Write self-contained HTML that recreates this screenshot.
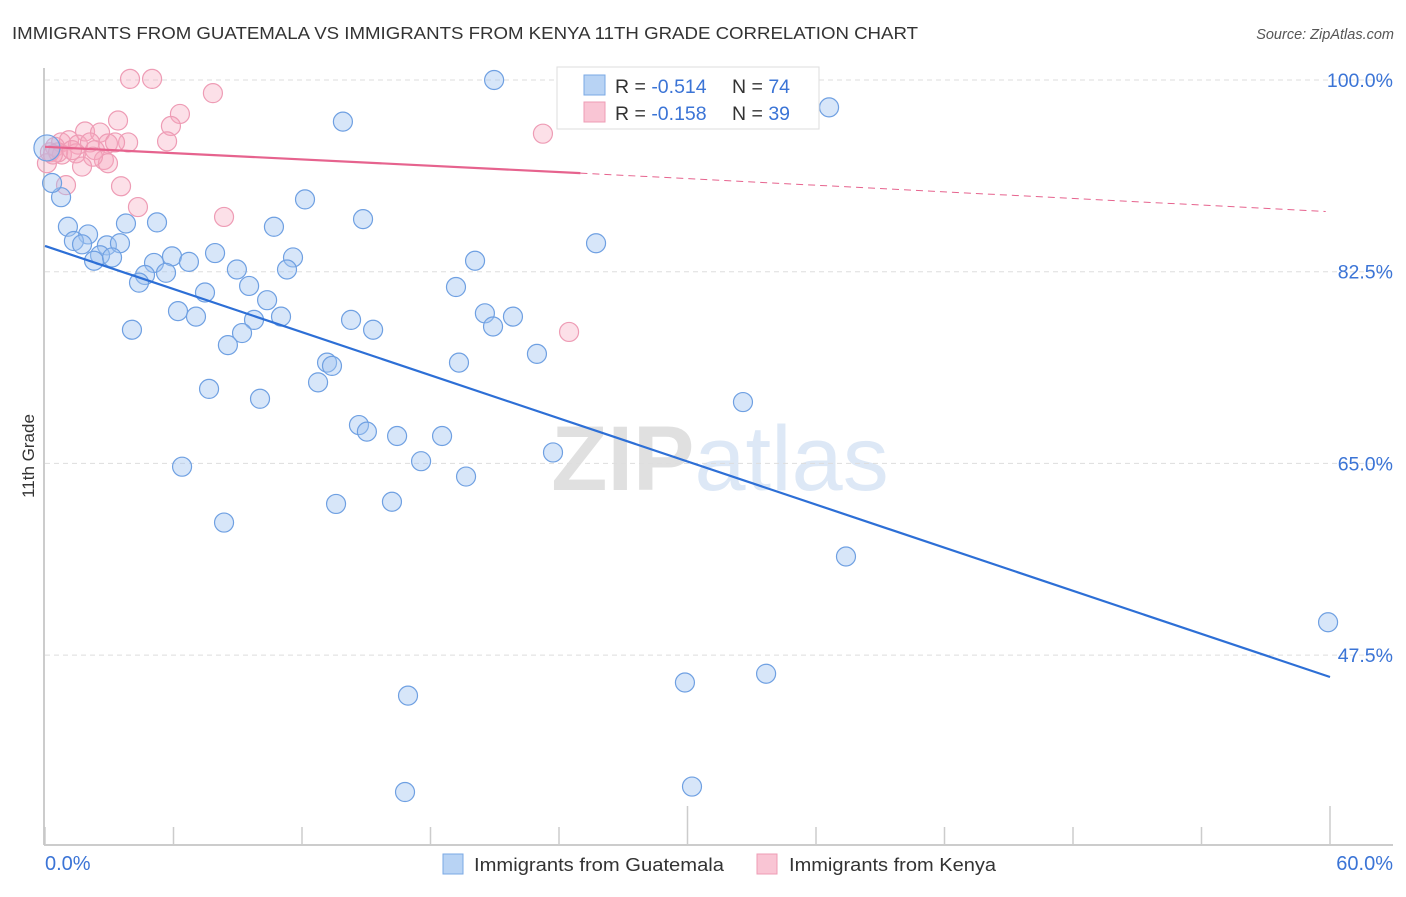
<!DOCTYPE html>
<html><head><meta charset="utf-8"><style>
body{margin:0;background:#fff;width:1406px;height:892px;overflow:hidden;font-family:"Liberation Sans",sans-serif}
svg text{font-family:"Liberation Sans",sans-serif}
</style></head><body>
<svg id="chart" width="1406" height="892" viewBox="0 0 1406 892" xmlns="http://www.w3.org/2000/svg">
<text x="12" y="39" font-size="17.5" fill="#333" textLength="906" lengthAdjust="spacingAndGlyphs">IMMIGRANTS FROM GUATEMALA VS IMMIGRANTS FROM KENYA 11TH GRADE CORRELATION CHART</text>
<text x="1394" y="39" font-size="14.5" fill="#555" text-anchor="end" font-style="italic">Source: ZipAtlas.com</text>
<text x="720" y="490" font-size="92" text-anchor="middle" fill="#e4e4e4" font-family="Liberation Serif,serif"><tspan fill="#e0e0e0" font-weight="bold">ZIP</tspan><tspan fill="#dde8f6" font-family="Liberation Sans,sans-serif">atlas</tspan></text>
<g id="grid"></g>
<g id="axes"></g>
<g id="marks"></g>
<text transform="translate(34,456) rotate(-90)" font-size="17" fill="#333" text-anchor="middle">11th Grade</text>
<g>
<rect x="557" y="67" width="262" height="62" fill="#fff" stroke="#ddd"/>
<rect x="584" y="75" width="21" height="20" fill="#b8d3f4" stroke="#7aa8e4"/>
<rect x="584" y="102" width="21" height="20" fill="#f9c5d4" stroke="#ee9cb5"/>
<text x="615" y="93" font-size="19.5" fill="#333">R = <tspan fill="#3b74d6">-0.514</tspan><tspan x="732">N = </tspan><tspan fill="#3b74d6">74</tspan></text>
<text x="615" y="120" font-size="19.5" fill="#333">R = <tspan fill="#3b74d6">-0.158</tspan><tspan x="732">N = </tspan><tspan fill="#3b74d6">39</tspan></text>
</g>
<g>
<rect x="443" y="854" width="20" height="20" fill="#b8d3f4" stroke="#7aa8e4"/>
<text x="474" y="871" font-size="18" fill="#333" textLength="250" lengthAdjust="spacingAndGlyphs">Immigrants from Guatemala</text>
<rect x="757" y="854" width="20" height="20" fill="#f9c5d4" stroke="#ee9cb5"/>
<text x="789" y="871" font-size="18" fill="#333" textLength="207" lengthAdjust="spacingAndGlyphs">Immigrants from Kenya</text>
</g>
</svg>
<script>
const xTickVals=[0,6,12,18,24,30,36,42,48,54,60];
const yTickVals=[100,82.5,65,47.5];
const yTickLabels=["100.0%","82.5%","65.0%","47.5%"];
const xEndLabels=["0.0%","60.0%"];
const guatX=[0.09,20.97,36.61,13.91,12.14,0.75,0.33,1.07,3.78,5.23,14.85,10.69,2.01,1.35,1.73,2.89,3.50,25.73,7.94,5.93,2.57,2.29,3.13,5.09,6.72,11.58,20.08,8.96,11.30,4.67,5.65,4.39,9.53,7.47,19.19,10.37,6.21,7.05,9.76,11.02,14.29,20.54,21.85,20.92,4.06,9.20,15.32,8.54,22.97,13.17,13.40,19.33,12.75,7.66,10.04,32.59,14.66,15.03,16.44,18.54,23.72,17.56,6.40,19.66,16.20,13.59,8.36,37.40,59.91,33.67,29.88,16.95,16.81,30.21];
const guatY=[93.8,100.0,97.5,96.2,89.1,89.3,90.6,86.6,86.9,87.0,87.3,86.6,85.9,85.3,85.0,84.9,85.1,85.1,84.2,83.9,84.0,83.5,83.8,83.3,83.4,83.8,83.5,82.7,82.7,82.2,82.4,81.5,81.2,80.6,81.1,79.9,78.9,78.4,78.1,78.4,78.1,78.7,78.4,77.5,77.2,76.9,77.2,75.8,75.0,74.2,73.9,74.2,72.4,71.8,70.9,70.6,68.5,67.9,67.5,67.5,66.0,65.2,64.7,63.8,61.5,61.3,59.6,56.5,50.5,45.8,45.0,43.8,35.0,35.5];
const kenyaX=[3.97,5.00,24.79,7.84,6.30,3.41,5.88,1.87,2.57,5.70,23.25,3.88,0.75,1.12,1.54,2.10,2.94,0.47,0.23,0.79,2.33,1.45,2.75,2.94,2.24,1.73,0.09,0.98,3.55,4.34,8.36,24.47,0.61,1.26,3.27,0.37];
const kenyaY=[100.1,100.1,100.1,98.8,96.9,96.3,95.8,95.3,95.2,94.4,95.1,94.3,94.3,94.5,94.1,94.3,94.2,93.9,93.4,93.2,93.6,93.3,92.7,92.4,93.0,92.1,92.4,90.4,90.3,88.4,87.5,77.0,93.4,93.6,94.3,93.2];
const guatTrend=[84.85,45.5];
const kenyaTrend=[93.9,91.5,88.0];
const kenyaTrendX=[0,25.0,59.8];

const X0=45,X1=1330,Y100=80,PXPER=191.7/17.5;
const sx=v=>X0+(v/60)*(X1-X0);
const sy=v=>Y100+(100-v)*PXPER;
const NS="http://www.w3.org/2000/svg";
function mk(parent,tag,attrs){const e=document.createElementNS(NS,tag);for(const k in attrs)e.setAttribute(k,attrs[k]);parent.appendChild(e);return e;}
const grid=document.getElementById('grid'),axes=document.getElementById('axes'),marks=document.getElementById('marks');
yTickVals.forEach((v,i)=>{
  const l=mk(grid,'line',{x1:X0,x2:1393,y1:sy(v),y2:sy(v),stroke:'#ddd','stroke-dasharray':'5,4'});
  
  
  const t=mk(axes,'text',{x:1393,y:sy(v)+7,'font-size':19.5,fill:'#3b74d6','text-anchor':'end'});
  t.textContent=yTickLabels[i];
  
  
});
const la=mk(axes,'line',{x1:44,x2:44,y1:68,y2:845,stroke:'#bbb','stroke-width':1.5});


const lb=mk(axes,'line',{x1:44,x2:1393,y1:845,y2:845,stroke:'#bbb','stroke-width':1.5});


xTickVals.forEach(v=>{
  const tk=mk(axes,'line',{x1:sx(v),x2:sx(v),y1:(v===30||v===60)?806:827,y2:845,stroke:'#ccc','stroke-width':1.5});
  
  
});
[[0,'start',45],[60,'end',1393]].forEach((a,i)=>{
  const t=mk(axes,'text',{x:a[2],y:870,'font-size':20,fill:'#3b74d6','text-anchor':a[1]});
  t.textContent=xEndLabels[i];
  
  
});
kenyaX.forEach((x,i)=>{
  const c=mk(marks,'circle',{cx:sx(x),cy:sy(kenyaY[i]),r:9.5,fill:'rgba(245,165,190,0.35)',stroke:'#ee9cb5','stroke-width':1.2});
  
  
});
guatX.forEach((x,i)=>{
  const c=mk(marks,'circle',{cx:sx(x),cy:sy(guatY[i]),r:i===0?13:9.5,fill:'rgba(160,196,240,0.42)',stroke:'#6fa0e2','stroke-width':1.2});
  
  
});
const gl=mk(marks,'line',{x1:sx(0),y1:sy(guatTrend[0]),x2:sx(60),y2:sy(guatTrend[1]),stroke:'#2d6fd6','stroke-width':2.2});


const kl=mk(marks,'line',{x1:sx(kenyaTrendX[0]),y1:sy(kenyaTrend[0]),x2:sx(kenyaTrendX[1]),y2:sy(kenyaTrend[1]),stroke:'#e6638e','stroke-width':2.2});


const kd=mk(marks,'line',{x1:sx(kenyaTrendX[1]),y1:sy(kenyaTrend[1]),x2:sx(kenyaTrendX[2]),y2:sy(kenyaTrend[2]),stroke:'#e6638e','stroke-width':1,'stroke-dasharray':'7,5'});


</script>
</body></html>
